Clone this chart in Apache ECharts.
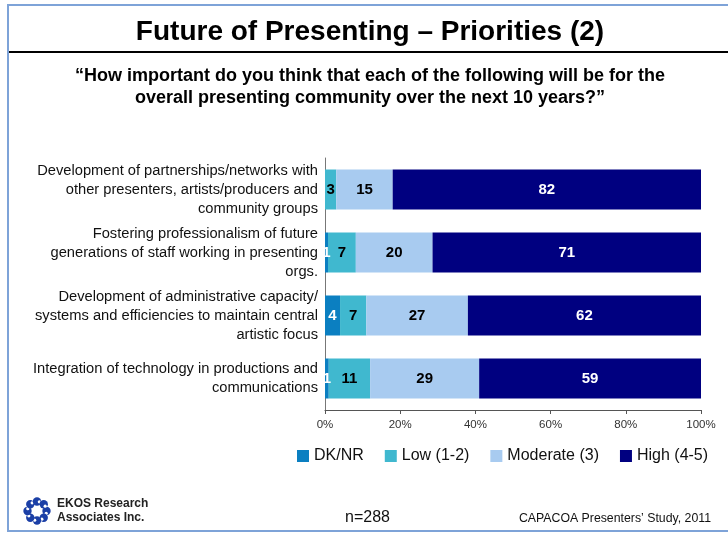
<!DOCTYPE html>
<html>
<head>
<meta charset="utf-8">
<script src="https://cdn.jsdelivr.net/npm/echarts@6/dist/echarts.min.js"></script>
<style>
html,body{margin:0;padding:0;background:#fff;}
#c{width:728px;height:533px;}
</style>
</head>
<body>
<div id="c"></div>
<script>
var categories = [
  'Development of partnerships/networks with\nother presenters, artists/producers and\ncommunity groups',
  'Fostering professionalism of future\ngenerations of staff working in presenting\norgs.',
  'Development of administrative capacity/\nsystems and efficiencies to maintain central\nartistic focus',
  'Integration of technology in productions and\ncommunications'
];
var seriesNames = ['DK/NR', 'Low (1-2)', 'Moderate (3)', 'High (4-5)'];
var dkNr = [0, 0.8, 4, 1];
var low = [3, 7.4, 7, 11];
var moderate = [15, 20.4, 27, 29];
var high = [82, 71.4, 62, 59];
var colors = ['#0B7FC1', '#40B8CF', '#A8CBF0', '#000080'];
var labelColors = ['#fff', '#000', '#000', '#fff'];
var tickLabels = ['0%', '20%', '40%', '60%', '80%', '100%'];

var FONT = 'Arial, Liberation Sans, sans-serif';
var chart = echarts.init(document.getElementById('c'), null, {renderer: 'canvas'});
var datas = [dkNr, low, moderate, high];
var series = datas.map(function (d, i) {
  return {
    name: seriesNames[i],
    type: 'bar',
    stack: 'total',
    barWidth: 40,
    itemStyle: {color: colors[i]},
    label: {
      show: true,
      position: 'inside',
      color: labelColors[i],
      fontFamily: FONT,
      fontWeight: 'bold',
      fontSize: 15,
      formatter: function (p) { return p.value > 0 ? Math.round(p.value) : ''; }
    },
    data: d
  };
});

chart.setOption({
  animation: false,
  textStyle: {fontFamily: FONT},
  grid: {left: 325, right: 27, top: 158, bottom: 123, containLabel: false},
  xAxis: {
    type: 'value',
    min: 0, max: 100, interval: 20,
    splitLine: {show: false},
    axisLine: {show: true, lineStyle: {color: '#555', width: 1}},
    axisTick: {show: true, length: 4, lineStyle: {color: '#555'}},
    axisLabel: {
      color: '#333', fontSize: 11.5, margin: 9,
      formatter: function (v) { return tickLabels[Math.round(v / 20)]; }
    }
  },
  yAxis: {
    type: 'category',
    inverse: true,
    data: categories,
    axisLine: {show: true, lineStyle: {color: '#777', width: 1}},
    axisTick: {show: false},
    axisLabel: {
      color: '#111', fontSize: 14.7, lineHeight: 19, align: 'right', margin: 7
    }
  },
  legend: {
    left: 292, top: 443,
    itemWidth: 12, itemHeight: 12, itemGap: 21,
    icon: 'rect',
    textStyle: {fontSize: 16, color: '#111'},
    data: seriesNames
  },
  series: series,
  graphic: [
    {type: 'rect', shape: {x: 8, y: 5, width: 740, height: 526}, style: {fill: 'none', stroke: '#7EA3D8', lineWidth: 2}, silent: true},
    {type: 'line', shape: {x1: 9, y1: 52, x2: 728, y2: 52}, style: {stroke: '#000', lineWidth: 2}},
    {type: 'text', x: 370, y: 32, style: {text: 'Future of Presenting \u2013 Priorities (2)', font: 'bold 28px ' + FONT, fill: '#000', textAlign: 'center', textVerticalAlign: 'middle'}},
    {type: 'text', x: 370, y: 76, style: {text: '\u201CHow important do you think that each of the following will be for the', font: 'bold 18px ' + FONT, fill: '#000', textAlign: 'center', textVerticalAlign: 'middle'}},
    {type: 'text', x: 370, y: 98, style: {text: 'overall presenting community over the next 10 years?\u201D', font: 'bold 18px ' + FONT, fill: '#000', textAlign: 'center', textVerticalAlign: 'middle'}},
    {type: 'text', x: 57, y: 504, style: {text: 'EKOS Research', font: 'bold 12px ' + FONT, fill: '#222', textVerticalAlign: 'middle'}},
    {type: 'text', x: 57, y: 518, style: {text: 'Associates Inc.', font: 'bold 12px ' + FONT, fill: '#222', textVerticalAlign: 'middle'}},
    {type: 'text', x: 345, y: 518, style: {text: 'n=288', font: '16px ' + FONT, fill: '#111', textVerticalAlign: 'middle'}},
    {type: 'text', x: 711, y: 519, style: {text: 'CAPACOA Presenters\u2019 Study, 2011', font: '12.3px ' + FONT, fill: '#111', textAlign: 'right', textVerticalAlign: 'middle'}},
    {type: 'group', x: 37, y: 511, children: (function () {
      var arr = [];
      for (var k = 0; k < 8; k++) {
        var a = k * Math.PI / 4;
        arr.push({type: 'circle', shape: {cx: Math.cos(a) * 9.5, cy: Math.sin(a) * 9.5, r: 4.2}, style: {fill: '#1B3FA6'}});
        arr.push({type: 'circle', shape: {cx: Math.cos(a + 0.25) * 9.5, cy: Math.sin(a + 0.25) * 9.5, r: 1.6}, style: {fill: '#fff'}});
      }
      return arr;
    })()}
  ]
});
</script>
</body>
</html>
